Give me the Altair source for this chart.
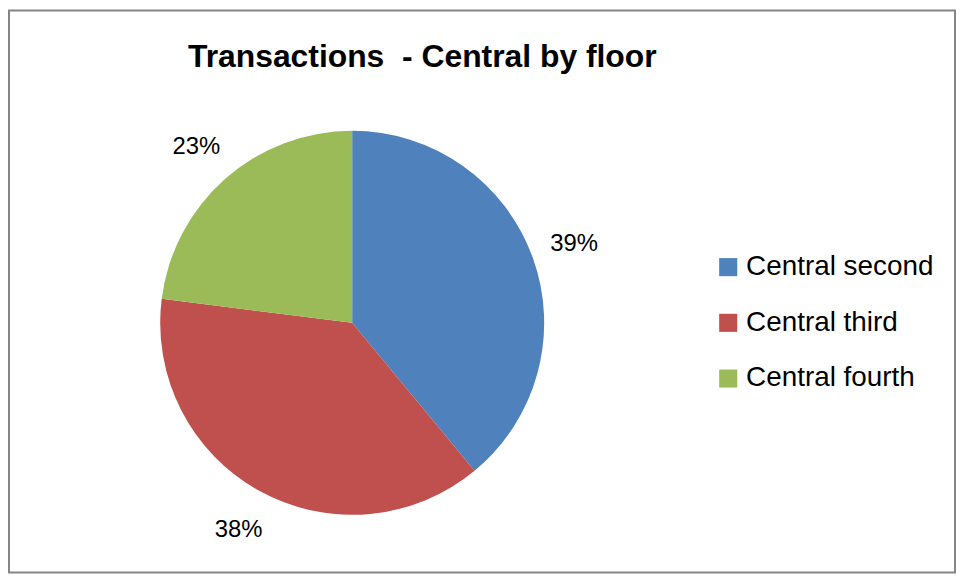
import altair as alt
import pandas as pd

categories = ["Central second", "Central third", "Central fourth"]
values = [39, 38, 23]
labels = ["39%", "38%", "23%"]
colors = ["#4F81BD", "#C0504D", "#9BBB59"]

df = pd.DataFrame({"cat": categories, "val": values, "lab": labels, "ord": [0, 1, 2]})

base = alt.Chart(df).encode(
    theta=alt.Theta("val:Q", stack=True),
    order=alt.Order("ord:Q"),
)

arcs = base.mark_arc(radius=193).encode(
    x=alt.value(346),
    y=alt.value(315),
    color=alt.Color(
        "cat:N",
        scale=alt.Scale(domain=categories, range=colors),
        sort=categories,
        legend=alt.Legend(
            title=None,
            orient="none",
            legendX=710,
            legendY=245,
            symbolType="square",
            symbolSize=330,
            symbolStrokeWidth=0,
            labelFont="Liberation Sans",
            labelFontSize=28,
            labelColor="#000000",
            labelOffset=4,
            rowPadding=28,
            labelLimit=400,
        ),
    ),
)

text = base.mark_text(radius=237, font="Liberation Sans", fontSize=24, color="#000000").encode(
    x=alt.value(346),
    y=alt.value(316),
    text="lab:N",
)

border = alt.Chart(pd.DataFrame({"a": [0]})).mark_rect(
    fill=None, stroke="#868686", strokeWidth=2
).encode(
    x=alt.value(1), x2=alt.value(952), y=alt.value(1), y2=alt.value(566)
)

chart = alt.layer(border, arcs, text).properties(
    width=953,
    height=567,
    padding=0,
    autosize=alt.AutoSizeParams(type="none"),
    title=alt.TitleParams(
        "Transactions\u00a0 - Central by floor",
        font="Liberation Sans",
        fontSize=32,
        fontWeight="bold",
        color="#000000",
        anchor="middle",
        dx=-60,
        offset=-65,
    ),
).configure_view(stroke=None)

chart.save("out.html", embed_options={"renderer": "svg", "actions": False})
